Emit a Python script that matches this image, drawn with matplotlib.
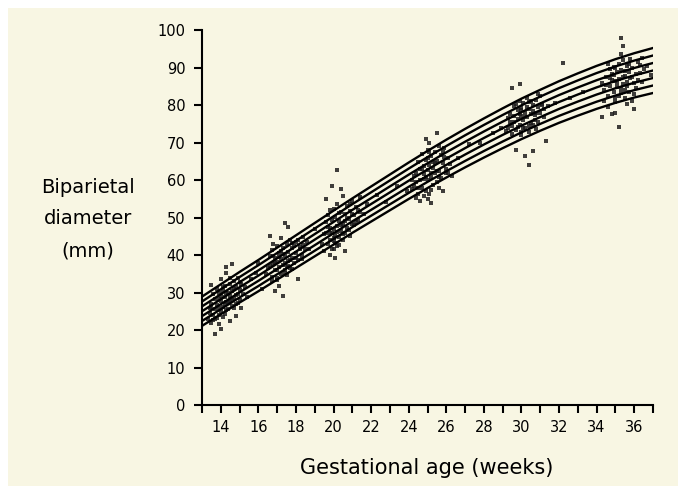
import matplotlib
matplotlib.use("Agg")
import numpy as np
from matplotlib import pyplot as plt
from matplotlib.patches import Rectangle

plt.rcParams['font.family'] = ['DejaVu Sans']

# centile curves: median and spacing between adjacent centile lines (mm)
weeks = [13, 14, 15, 16, 17, 18, 19, 20, 21, 22, 23, 24, 25,
         26, 27, 28, 29, 30, 31, 32, 33, 34, 35, 36, 37]
median = [25.0, 28.2, 31.4, 34.5, 37.7, 40.9, 44.1, 47.3, 50.5, 53.6, 56.7, 59.8, 62.8,
          65.7, 68.5, 71.2, 73.8, 76.3, 78.6, 80.8, 82.8, 84.7, 86.4, 87.9, 89.2]
gap = [1.30, 1.33, 1.36, 1.39, 1.42, 1.45, 1.48, 1.51, 1.53, 1.56, 1.59, 1.62, 1.65,
       1.68, 1.71, 1.74, 1.77, 1.80, 1.82, 1.85, 1.88, 1.91, 1.94, 1.97, 2.00]
centile_steps = [-3, -2, -1, 0, 1, 2, 3]

# measurements, grouped by scan session
xa = [13.4,13.5,13.6,13.6,13.7,13.8,13.8,13.9,13.9,14.0,14.0,14.0,14.1,14.1,14.2,14.2,14.2,14.3,14.3,14.4,14.4,14.5,14.5,14.5,14.6,14.6,14.7,14.7,14.8,14.8,14.9,14.9,15.0,15.0,15.1,15.2,15.3,15.4,13.7,14.0,14.3,13.9,14.6,15.1,13.5,14.8]
ya = [24.5,27.0,22.8,29.5,25.6,26.8,31.0,23.9,28.3,25.0,27.7,33.5,26.2,30.4,24.4,28.9,31.8,27.4,35.2,25.7,29.9,27.8,32.4,22.5,30.3,26.5,28.6,33.1,29.4,31.6,27.2,34.0,30.8,28.0,32.2,29.7,31.5,28.9,19.0,20.4,36.8,21.6,37.5,25.9,32.0,23.8]
xa2 = [13.3,13.4,13.5,13.6,13.7,13.8,13.9,14.0,14.1,14.2,14.3,14.4,14.5,14.6,14.7,14.8,14.9,15.0,13.5,13.7,13.9,14.1,14.3,14.5,14.7]
ya2 = [23.0,25.8,26.1,24.1,28.2,23.3,26.0,29.0,23.6,26.9,25.3,27.6,29.1,28.0,30.9,27.0,29.6,32.9,21.8,23.0,29.8,31.6,30.0,34.0,25.8]
xb = [16.5,16.6,16.7,16.7,16.8,16.8,16.9,16.9,17.0,17.0,17.0,17.1,17.1,17.2,17.2,17.2,17.3,17.3,17.4,17.4,17.5,17.5,17.6,17.6,17.7,17.7,17.8,17.8,17.9,18.0,18.0,18.1,18.2,18.3,18.4,16.9,17.3,17.6,17.1,18.1,17.4,16.6]
yb = [36.5,39.8,34.2,41.3,37.6,43.0,35.9,39.1,33.4,38.2,42.4,36.8,40.6,35.0,38.9,44.5,37.3,41.8,36.1,39.7,34.8,42.9,38.4,40.9,36.6,44.0,39.3,41.9,37.8,40.5,43.6,38.7,42.1,40.0,44.8,30.5,29.2,47.6,31.8,33.5,48.5,45.0]
xb2 = [16.4,16.6,16.8,17.0,17.2,17.4,17.6,17.8,18.0,18.2,18.4,18.6,16.7,16.9,17.1,17.3,17.5,17.7,17.9,18.1,18.3,17.0,17.4,17.8,18.5]
yb2 = [35.0,37.2,39.8,36.0,41.0,38.0,37.2,43.2,39.2,41.6,42.8,43.5,33.0,37.8,39.5,40.2,36.8,38.6,42.5,44.0,39.0,34.0,35.2,36.3,41.5]
xc = [19.5,19.6,19.7,19.7,19.8,19.8,19.9,19.9,20.0,20.0,20.0,20.1,20.1,20.2,20.2,20.2,20.3,20.3,20.4,20.4,20.5,20.5,20.6,20.6,20.7,20.7,20.8,20.9,21.0,21.0,21.1,21.2,21.3,19.8,20.1,20.4,19.9,20.6,20.2,21.4,19.6,20.9]
yc = [45.5,48.8,42.9,50.6,44.1,47.3,41.6,49.4,43.8,46.9,52.2,45.0,50.1,42.5,47.8,53.6,44.7,49.0,46.3,51.5,43.9,48.4,50.9,45.8,47.2,53.0,49.7,51.8,48.2,54.5,50.6,52.7,49.4,40.0,39.2,57.6,58.5,41.0,62.8,55.5,55.0,45.0]
xc2 = [19.4,19.6,19.8,20.0,20.2,20.4,20.6,20.8,21.0,21.2,21.4,19.5,19.7,19.9,20.1,20.3,20.5,20.7,20.9,21.1,21.3,20.0,20.3,19.8,20.5]
yc2 = [43.0,46.0,45.8,44.6,46.2,48.0,49.0,46.8,51.0,48.8,51.5,41.2,47.5,45.9,43.2,51.2,45.5,50.0,53.5,47.9,52.0,41.5,42.8,52.0,55.8]
xd = [24.3,24.4,24.5,24.5,24.6,24.7,24.7,24.8,24.8,24.9,24.9,25.0,25.0,25.0,25.1,25.1,25.2,25.2,25.3,25.3,25.4,25.4,25.5,25.5,25.6,25.6,25.7,25.8,25.9,26.0,26.1,24.6,25.2,24.9,25.5,24.4,25.8,26.3,24.2,25.1]
yd = [58.5,62.0,56.3,64.8,60.1,58.0,66.9,61.5,63.8,57.2,65.3,59.9,62.7,68.1,56.4,64.0,60.8,66.5,58.6,63.3,61.9,67.4,59.4,65.0,62.4,69.0,60.6,64.4,66.2,63.0,65.8,54.5,53.8,71.0,72.5,55.2,57.0,61.0,60.0,70.0]
xd2 = [24.2,24.4,24.6,24.8,25.0,25.2,25.4,25.6,25.8,26.0,26.2,24.3,24.5,24.7,24.9,25.1,25.3,25.5,25.7,25.9,26.1,24.8,25.2,25.6,25.0]
yd2 = [57.5,59.5,63.0,60.2,65.8,62.0,64.6,60.9,67.4,61.8,64.2,61.0,58.0,63.0,60.8,67.5,64.9,62.5,66.8,68.5,62.0,55.8,57.4,58.0,55.0]
xe = [29.3,29.4,29.5,29.6,29.6,29.7,29.8,29.8,29.9,29.9,30.0,30.0,30.0,30.1,30.1,30.2,30.2,30.3,30.3,30.4,30.4,30.5,30.5,30.6,30.6,30.7,30.8,30.9,31.0,31.1,31.2,29.7,30.2,30.6,29.5,30.9,30.4,31.3,29.9,32.2]
ye = [74.0,77.5,72.3,79.8,75.6,73.4,78.7,76.2,81.0,74.7,77.0,79.3,72.8,75.9,80.5,73.9,78.1,76.8,82.0,74.5,79.0,77.6,75.3,80.1,78.4,76.0,81.3,79.6,77.8,80.4,78.9,68.0,66.5,67.8,84.5,83.0,64.0,70.5,85.5,91.2]
xe2 = [29.2,29.4,29.6,29.8,30.0,30.2,30.4,30.6,30.8,31.0,31.2,31.4,29.3,29.5,29.7,29.9,30.1,30.3,30.5,30.7,30.9,31.1,30.0,30.4,30.8]
ye2 = [73.0,75.4,77.0,74.1,78.8,77.2,80.9,74.8,78.0,82.3,76.9,79.8,76.5,74.3,80.2,77.7,74.0,79.6,81.0,77.3,75.5,80.0,72.0,72.8,73.5]
xf = [34.4,34.5,34.6,34.7,34.7,34.8,34.9,34.9,35.0,35.0,35.1,35.1,35.2,35.2,35.3,35.3,35.4,35.4,35.5,35.5,35.6,35.6,35.7,35.7,35.8,35.9,36.0,36.1,36.2,36.3,34.6,35.0,35.3,35.6,35.9,34.3,35.2,35.4,35.3,36.4,34.8,36.0]
yf = [84.0,87.5,82.3,89.6,85.1,88.4,83.6,90.2,86.3,81.8,88.9,84.7,91.0,86.9,83.2,89.3,85.5,92.0,87.8,84.1,90.5,86.2,88.7,83.5,87.1,89.8,85.9,88.2,86.6,90.8,79.5,78.0,93.5,80.3,81.0,76.8,74.1,95.7,97.9,92.5,77.5,79.0]
xf2 = [34.3,34.5,34.7,34.9,35.1,35.3,35.5,35.7,35.9,36.1,36.3,36.5,34.4,34.6,34.8,35.0,35.2,35.4,35.6,35.8,36.0,36.2,35.0,35.5,36.4]
yf2 = [86.0,85.4,87.2,88.0,86.0,84.3,89.0,90.9,87.5,84.6,88.5,89.5,81.0,91.0,86.8,89.8,82.5,87.4,85.0,92.2,83.0,91.5,80.8,82.0,86.2]
xs = [15.6,15.9,16.2,18.7,19.0,21.8,22.3,22.8,23.4,23.9,26.6,27.2,27.8,28.5,31.8,32.6,33.3,36.7,36.9,16.0,21.6,28.9]
ys = [33.5,35.2,31.0,41.5,47.0,53.5,56.0,54.2,58.5,57.0,66.0,69.5,70.0,72.5,80.5,82.0,83.5,90.5,88.0,38.0,51.0,74.0]

groups = [(xa + xa2, ya + ya2), (xb + xb2, yb + yb2), (xc + xc2, yc + yc2),
          (xd + xd2, yd + yd2), (xe + xe2, ye + ye2), (xf + xf2, yf + yf2), (xs, ys)]

cream = '#f8f6e3'

fig = plt.figure(figsize=(6.78, 4.86), dpi=100, facecolor='white')
fig.patches.append(Rectangle((8/678, 0), 1, 1 - 8/486, transform=fig.transFigure,
                             facecolor=cream, edgecolor='none', zorder=-10))
ax = fig.add_axes([202/678, 1 - 405/486, 451/678, 375/486])
ax.set_facecolor('none')

# scatter
for x, y in groups:
    ax.scatter(x, y, s=5.5, marker='s', color='#1e1e1e', linewidths=0, alpha=0.85, zorder=2)

# centile lines
med = np.array(median)
g = np.array(gap)
for k in centile_steps:
    ax.plot(weeks, med + k * g, color='black', lw=1.7, zorder=3)

ax.set_xlim(13, 37)
ax.set_ylim(0, 100)
ax.spines['top'].set_visible(False)
ax.spines['right'].set_visible(False)
for s in ['left', 'bottom']:
    ax.spines[s].set_linewidth(1.5)

ax.set_xticks(range(13, 38))
ax.set_xticklabels([str(w) if w % 2 == 0 else '' for w in range(13, 38)])
ax.set_yticks(range(0, 101, 10))
ax.tick_params(axis='both', direction='out', width=1.5, length=6, labelsize=10.5, colors='black')
ax.tick_params(axis='x', pad=5)
ax.tick_params(axis='y', pad=6)

fig.text(427/678, 1 - 468/486, 'Gestational age (weeks)', ha='center', va='center', fontsize=15)
fig.text(88/678, 1 - 219/486, 'Biparietal\ndiameter\n(mm)', ha='center', va='center',
         fontsize=14, linespacing=1.85)

fig.savefig('out.png', dpi=100, facecolor=fig.get_facecolor())
